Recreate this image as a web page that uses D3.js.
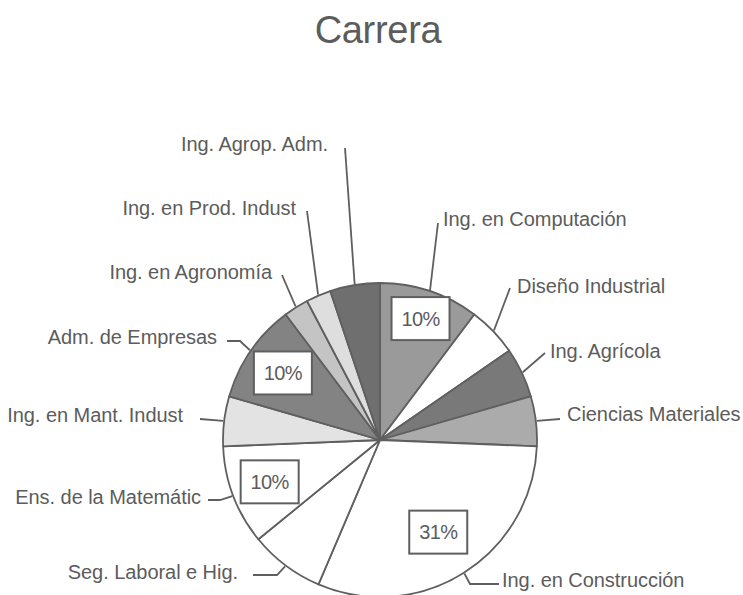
<!DOCTYPE html>
<html>
<head>
<meta charset="utf-8">
<script src="https://cdn.jsdelivr.net/npm/d3@7"></script>
<style>
  body { margin: 0; background: #fff; }
  text { font-family: "Liberation Sans", Arial, sans-serif; fill: #5c5c5c; }
</style>
</head>
<body>
<div id="chart"></div>
<script>
// Careers, clockwise from twelve o'clock.
var careers = [
  'Ing. en Computación', 'Diseño Industrial', 'Ing. Agrícola', 'Ciencias Materiales',
  'Ing. en Construcción', 'Seg. Laboral e Hig.', 'Ens. de la Matemátic', 'Ing. en Mant. Indust',
  'Adm. de Empresas', 'Ing. en Agronomía', 'Ing. en Prod. Indust', 'Ing. Agrop. Adm.'
];
// Student counts per career.
var counts = [4, 2, 2, 2, 12, 3, 4, 2, 4, 1, 1, 2];
// Slices that carry a percentage box.
var shownPct = ['Ing. en Computación', 'Ing. en Construcción', 'Ens. de la Matemátic', 'Adm. de Empresas'];

var sliceColors = [
  '#9a9a9a', '#ffffff', '#797979', '#ababab',
  '#ffffff', '#ffffff', '#ffffff', '#e3e3e3',
  '#838383', '#c4c4c4', '#dedede', '#6f6f6f'
];

// Hand placed label spots (like the original chart), keyed by career.
var labelLayout = {
  'Ing. en Computación':  { x: 443, y: 219, anchor: 'start', elbow: [[438, 223]] },
  'Diseño Industrial':    { x: 517, y: 286, anchor: 'start', elbow: [[510, 288]] },
  'Ing. Agrícola':        { x: 550, y: 351, anchor: 'start', elbow: [[545, 353]] },
  'Ciencias Materiales':  { x: 567, y: 414, anchor: 'start', elbow: [[560, 419]] },
  'Ing. en Construcción': { x: 502, y: 580, anchor: 'start', elbow: [[470, 584], [499, 584]] },
  'Seg. Laboral e Hig.':  { x: 238, y: 572, anchor: 'end',   elbow: [[277, 575], [253, 575]] },
  'Ens. de la Matemátic': { x: 201, y: 497, anchor: 'end',   elbow: [[220, 500], [208, 500]] },
  'Ing. en Mant. Indust': { x: 183, y: 415, anchor: 'end',   elbow: [[200, 419]] },
  'Adm. de Empresas':     { x: 217, y: 337, anchor: 'end',   elbow: [[240, 341], [227, 341]] },
  'Ing. en Agronomía':    { x: 272, y: 272, anchor: 'end',   elbow: [[282, 275]] },
  'Ing. en Prod. Indust': { x: 296, y: 208, anchor: 'end',   elbow: [[307, 211]] },
  'Ing. Agrop. Adm.':     { x: 328, y: 144, anchor: 'end',   elbow: [[345, 148]] }
};
var pctRadius = { 'Ing. en Computación': 128, 'Ing. en Construcción': 109, 'Ens. de la Matemátic': 118, 'Adm. de Empresas': 118 };

var width = 743, height = 595;
var cx = 380, cy = 440, radius = 157;

var svg = d3.select('#chart')
  .append('svg')
    .attr('width', width)
    .attr('height', height);

svg.append('text')
  .attr('x', 378)
  .attr('y', 43)
  .attr('text-anchor', 'middle')
  .style('font-size', '38px')
  .style('letter-spacing', '-0.3px')
  .text('Carrera');

var table = careers.map(function(c, i){ return { career: c, count: counts[i] }; });
var total = d3.sum(counts);

var pie = d3.pie()
  .sort(null)
  .value(function(d){ return d.count; });
var arcs = pie(table);

var arc = d3.arc().innerRadius(0).outerRadius(radius);
var color = d3.scaleOrdinal().domain(careers).range(sliceColors);

var g = svg.append('g')
  .attr('transform', 'translate(' + cx + ',' + cy + ')');

g.selectAll('path.slice')
  .data(arcs)
  .enter()
  .append('path')
    .attr('class', 'slice')
    .attr('d', arc)
    .attr('fill', function(d){ return color(d.data.career); })
    .attr('stroke', '#5f5f5f')
    .attr('stroke-width', 1.8)
    .attr('stroke-linejoin', 'round');

// Leader lines from the slice's rim to the label.
function rimPoint(d, r){
  var a = (d.startAngle + d.endAngle) / 2;
  return [cx + Math.sin(a) * r, cy - Math.cos(a) * r];
}
var line = d3.line();
svg.selectAll('path.leader')
  .data(arcs)
  .enter()
  .append('path')
    .attr('class', 'leader')
    .attr('d', function(d){
      var pts = [rimPoint(d, radius + 1)].concat(labelLayout[d.data.career].elbow);
      return line(pts);
    })
    .attr('fill', 'none')
    .attr('stroke', '#5f5f5f')
    .attr('stroke-width', 1.8);

svg.selectAll('text.label')
  .data(arcs)
  .enter()
  .append('text')
    .attr('class', 'label')
    .attr('x', function(d){ return labelLayout[d.data.career].x; })
    .attr('y', function(d){ return labelLayout[d.data.career].y; })
    .attr('dy', '0.35em')
    .attr('text-anchor', function(d){ return labelLayout[d.data.career].anchor; })
    .style('font-size', '20px')
    .style('letter-spacing', '-0.05px')
    .text(function(d){ return d.data.career; });

// Percentage boxes.
var pctArcs = arcs.filter(function(d){ return shownPct.indexOf(d.data.career) >= 0; });
var boxes = svg.selectAll('g.pct')
  .data(pctArcs)
  .enter()
  .append('g')
    .attr('class', 'pct')
    .attr('transform', function(d){
      var p = rimPoint(d, pctRadius[d.data.career]);
      return 'translate(' + p[0] + ',' + p[1] + ')';
    });
boxes.append('rect')
  .attr('x', -29)
  .attr('y', -21.5)
  .attr('width', 58)
  .attr('height', 43)
  .attr('fill', '#fff')
  .attr('stroke', '#5f5f5f')
  .attr('stroke-width', 2);
boxes.append('text')
  .attr('text-anchor', 'middle')
  .attr('dy', '0.35em')
  .style('font-size', '20px')
  .style('letter-spacing', '-0.6px')
  .text(function(d){ return Math.round(d.data.count / total * 100) + '%'; });
</script>
</body>
</html>
